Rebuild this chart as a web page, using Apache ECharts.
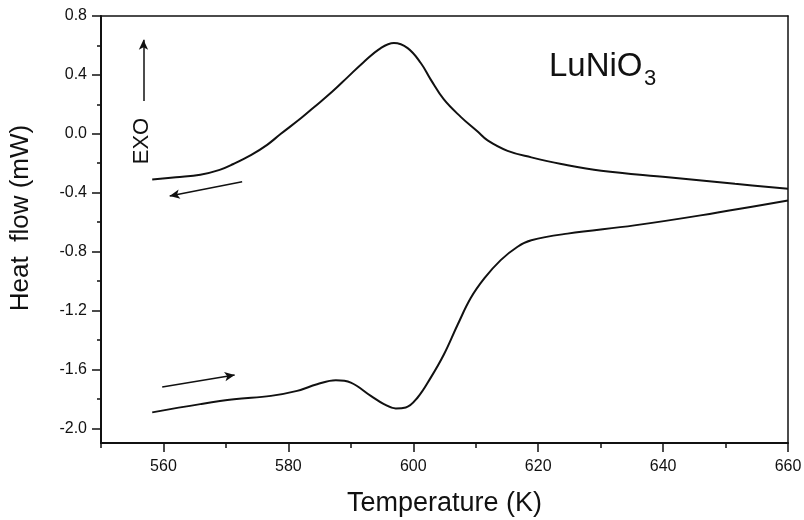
<!DOCTYPE html>
<html>
<head>
<meta charset="utf-8">
<script src="https://cdn.jsdelivr.net/npm/echarts@6/dist/echarts.min.js"></script>
<style>
  html, body { margin: 0; padding: 0; background: #fff; }
  #chart { width: 804px; height: 520px; }
</style>
</head>
<body>
<div id="chart"></div>
<script>
// cooling run (upper curve)
const coolT = [558.2, 562, 565.9, 569, 571.2, 574, 576.6, 578.8, 582.0, 584.1, 587, 589.5, 592, 594.8, 596.9, 599.1, 601.2, 602.8, 604.9, 607.6, 610.3, 611.9, 615.1, 618.9, 623.7, 630.1, 640.8, 651.5, 660];
const coolHF = [-0.311, -0.295, -0.278, -0.245, -0.205, -0.145, -0.075, 0.0, 0.105, 0.18, 0.285, 0.385, 0.485, 0.582, 0.616, 0.582, 0.481, 0.368, 0.233, 0.115, 0.015, -0.045, -0.116, -0.16, -0.205, -0.251, -0.295, -0.34, -0.374];
// heating run (lower curve)
const heatT = [558.2, 565.9, 571.3, 577.2, 581.4, 584.6, 587.6, 590.0, 593.2, 595.3, 597.2, 598.8, 600.7, 602.8, 604.9, 607.1, 609.2, 611.4, 614.0, 616.7, 618.9, 624.7, 635.4, 646.0, 660];
const heatHF = [-1.892, -1.836, -1.803, -1.78, -1.746, -1.701, -1.674, -1.69, -1.78, -1.836, -1.865, -1.859, -1.791, -1.656, -1.499, -1.297, -1.116, -0.981, -0.858, -0.767, -0.723, -0.678, -0.622, -0.554, -0.453];

const xMajor = [560, 580, 600, 620, 640, 660];
const xMinor = [550, 570, 590, 610, 630, 650];
const yMajor = [-2.0, -1.6, -1.2, -0.8, -0.4, 0.0, 0.4, 0.8];
const yMinor = [-1.8, -1.4, -1.0, -0.6, -0.2, 0.2, 0.6];

// direction arrows [start, end] in data units
const coolArrow = [[572.6, -0.325], [561.0, -0.423]];
const heatArrow = [[559.8, -1.719], [571.4, -1.638]];
const exoArrow = [[556.8, 0.222], [556.8, 0.638]];

const font = "'Liberation Sans', Arial, sans-serif";
const ink = "#111";

var chart = echarts.init(document.getElementById("chart"));

const zip = (xs, ys) => xs.map((x, i) => [x, ys[i]]);
const arrowLine = (a) => [{ coord: a[0] }, { coord: a[1] }];

const frameAxis = {
  axisLine: { show: true, onZero: false, lineStyle: { color: ink, width: 1.5 } },
  axisTick: { show: false },
  axisLabel: { show: false },
  splitLine: { show: false },
};

chart.setOption({
  animation: false,
  grid: { left: 101, right: 16, top: 16, bottom: 77, outerBoundsMode: "none" },
  xAxis: [
    {
      type: "value", position: "bottom", min: 550, max: 660,
      axisLine: { onZero: false, lineStyle: { color: ink, width: 2 } },
      axisTick: { customValues: xMajor, length: 9, lineStyle: { color: ink, width: 1.5 } },
      axisLabel: { customValues: xMajor, color: ink, fontSize: 16, fontFamily: font, margin: 16 },
      splitLine: { show: false },
      name: "Temperature (K)", nameLocation: "middle", nameGap: 47,
      nameTextStyle: { color: ink, fontSize: 27, fontFamily: font },
    },
    {
      type: "value", position: "bottom", min: 550, max: 660,
      axisLine: { show: false, onZero: false },
      axisTick: { customValues: xMinor, length: 5, lineStyle: { color: ink, width: 1.5 } },
      axisLabel: { show: false },
      splitLine: { show: false },
    },
    Object.assign({ type: "value", position: "top", min: 550, max: 660 }, frameAxis),
  ],
  yAxis: [
    {
      type: "value", position: "left", min: -2.1, max: 0.8,
      axisLine: { onZero: false, lineStyle: { color: ink, width: 2 } },
      axisTick: { customValues: yMajor, length: 9, lineStyle: { color: ink, width: 1.5 } },
      axisLabel: {
        customValues: yMajor, color: ink, fontSize: 16, fontFamily: font, margin: 14,
        formatter: (v) => v.toFixed(1),
      },
      splitLine: { show: false },
    },
    {
      type: "value", position: "left", min: -2.1, max: 0.8,
      axisLine: { show: false, onZero: false },
      axisTick: { customValues: yMinor, length: 4, lineStyle: { color: ink, width: 1.5 } },
      axisLabel: { show: false },
      splitLine: { show: false },
    },
    Object.assign({ type: "value", position: "right", min: -2.1, max: 0.8 }, frameAxis),
  ],
  graphic: [
    {
      type: "text", x: 21, y: 218, rotation: Math.PI / 2,
      style: { text: "Heat  flow (mW)", fill: ink, font: "26px " + font, align: "center", verticalAlign: "middle" },
    },
    {
      type: "text", x: 142, y: 141, rotation: Math.PI / 2,
      style: { text: "EXO", fill: ink, font: "22px " + font, align: "center", verticalAlign: "middle" },
    },
    {
      type: "text", x: 549, y: 67,
      style: { text: "LuNiO", fill: ink, font: "33px " + font, align: "left", verticalAlign: "middle" },
    },
    {
      type: "text", x: 644, y: 79,
      style: { text: "3", fill: ink, font: "22px " + font, align: "left", verticalAlign: "middle" },
    },
  ],
  series: [
    {
      type: "line", name: "cooling", data: zip(coolT, coolHF),
      smooth: 0.4, showSymbol: false,
      lineStyle: { color: ink, width: 2 },
      markLine: {
        silent: true, symbol: ["none", "arrow"], symbolSize: [7, 10],
        label: { show: false },
        lineStyle: { color: ink, width: 1.5, type: "solid" },
        data: [arrowLine(coolArrow), arrowLine(heatArrow), arrowLine(exoArrow)],
      },
    },
    {
      type: "line", name: "heating", data: zip(heatT, heatHF),
      smooth: 0.4, showSymbol: false,
      lineStyle: { color: ink, width: 2 },
    },
  ],
});
</script>
</body>
</html>
